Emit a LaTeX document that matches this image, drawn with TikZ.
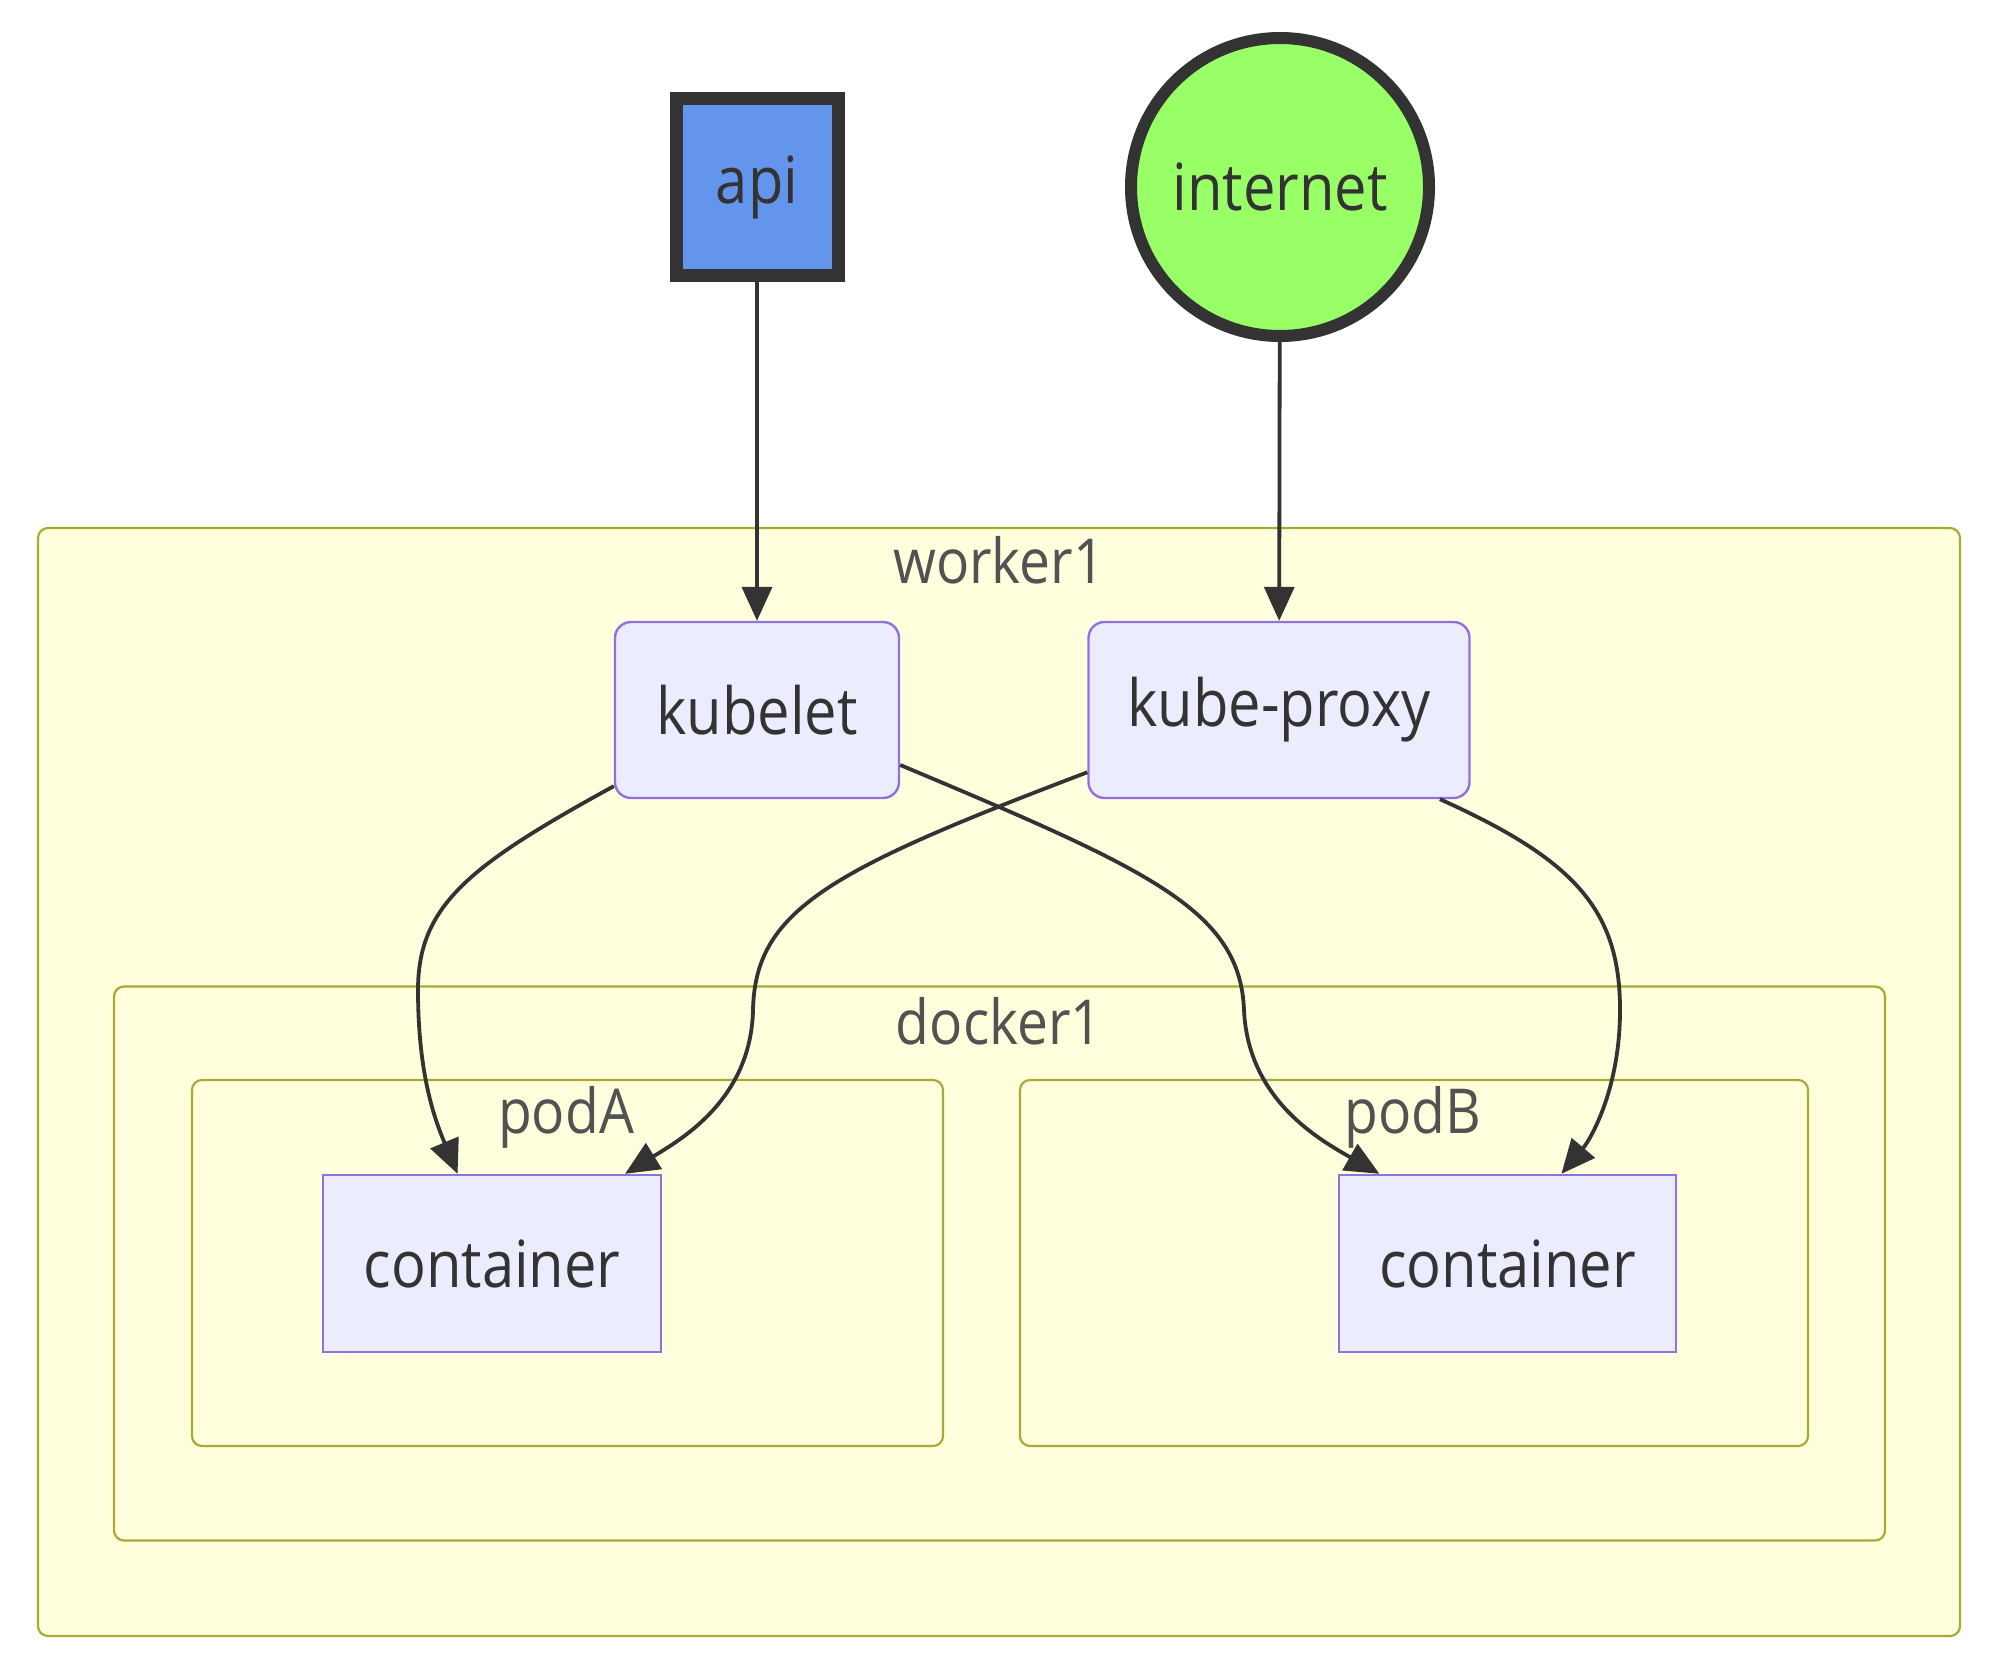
\documentclass[tikz,border=0pt]{standalone}
\usepackage{fontspec}
\setmainfont{Open Sans}[FakeStretch=0.89]
\usetikzlibrary{arrows.meta}
\definecolor{txt}{HTML}{333333}
\definecolor{sgfill}{HTML}{FFFFDE}
\definecolor{sgline}{HTML}{AAAA33}
\definecolor{ndfill}{HTML}{ECECFF}
\definecolor{ndline}{HTML}{9370DB}
\definecolor{apifill}{HTML}{6495ED}
\definecolor{netfill}{HTML}{99FF66}
\tikzset{
  sg/.style={draw=sgline, fill=sgfill, line width=1.1pt, rounded corners=5pt, inner sep=0pt},
  sglabel/.style={text=txt!85, font=\fontsize{31}{36}\selectfont, inner sep=0pt},
  nd/.style={draw=ndline, fill=ndfill, line width=1.2pt, text=txt, font=\fontsize{32.5}{38}\selectfont, inner sep=0pt},
  rnd/.style={nd, rounded corners=8pt},
  edge/.style={draw=txt, line width=1.9pt, -{Triangle[length=17pt,width=15pt]}},
}
\begin{document}
\begin{tikzpicture}[x=0.5pt,y=-0.5pt]
\useasboundingbox[fill=white] (0,0) rectangle (2000,1665);
% subgraphs
\node[sg, minimum width=961pt, minimum height=554pt] (worker1) at (999,1082) {};
\node[sglabel] (worker1lbl) at (999,560) {worker1};
\node[sg, minimum width=885.5pt, minimum height=277pt] (docker1) at (999.5,1263.5) {};
\node[sglabel] (docker1lbl) at (999,1021) {docker1};
\node[sg, minimum width=375.5pt, minimum height=183pt] (podA) at (567.5,1263) {};
\node[sglabel] (podAlbl) at (566,1117) {podA};
\node[sg, minimum width=394pt, minimum height=183pt] (podB) at (1414,1263) {};
\node[sglabel] (podBlbl) at (1413,1117) {podB};
% nodes
\node[draw=txt, fill=apifill, line width=6.5pt, text=txt, font=\fontsize{32.5}{38}\selectfont,
      minimum width=81pt, minimum height=88.5pt, inner sep=0pt] (api) at (757,187) {api};
\node[circle, draw=txt, fill=netfill, line width=6pt, text=txt, font=\fontsize{32.5}{38}\selectfont,
      minimum size=149pt, inner sep=0pt] (internet) at (1280,187) {internet};
\node[rnd, minimum width=142pt, minimum height=88pt] (kubelet) at (757,710) {kubelet};
\node[rnd, minimum width=190.5pt, minimum height=88pt] (kubeproxy) at (1279,710) {kube-proxy};
\node[nd, minimum width=169pt, minimum height=88.5pt] (cA) at (492,1263.5) {container};
\node[nd, minimum width=168.5pt, minimum height=88.5pt] (cB) at (1507.5,1263.5) {container};
% edges
\draw[edge] (api) -- (kubelet);
\draw[edge] (internet) -- (kubeproxy);
\draw[edge] (kubelet.208.6) .. controls (470,865) and (418,905) .. (418,990)
  .. controls (418,1075) and (435,1120) .. (cA.111.7);
\draw[edge] (kubelet.339.7) .. controls (1150,870) and (1240,910) .. (1244,1010)
  .. controls (1248,1100) and (1320,1140) .. (cB.145);
\draw[edge] (kubeproxy.198.9) .. controls (830,870) and (755,910) .. (753,1010)
  .. controls (751,1100) and (680,1140) .. (cA.34.7);
\draw[edge] (kubeproxy.331.8) .. controls (1575,860) and (1620,910) .. (1620,1010)
  .. controls (1620,1090) and (1590,1140) .. (cB.59.2);
\end{tikzpicture}
\end{document}
